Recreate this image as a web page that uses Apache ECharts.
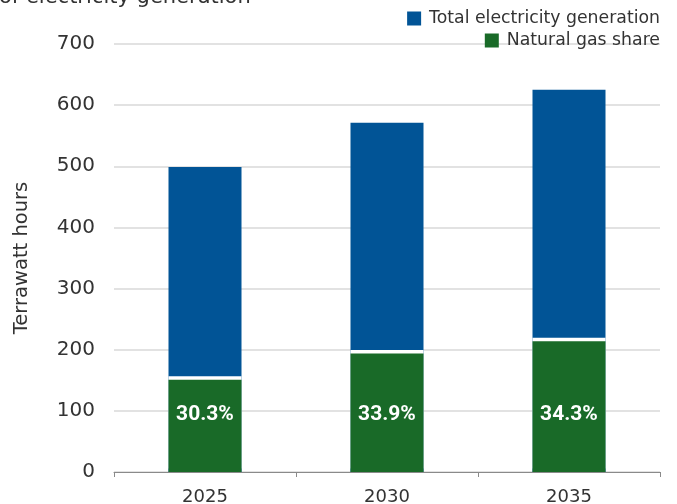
<!DOCTYPE html>
<html>
<head>
<meta charset="utf-8">
<script src="https://cdn.jsdelivr.net/npm/echarts@6/dist/echarts.min.js"></script>
<style>html,body{margin:0;padding:0;background:#fff}#c{width:677px;height:504px}</style>
</head>
<body>
<div id="c"></div>
<script>
const categories = ['2025', '2030', '2035'];
const totalGeneration = [499, 571, 625];
const gasGeneration = [151, 194, 214];
const gasShareLabels = ['30.3%', '33.9%', '34.3%'];
const yTicks = [0, 100, 200, 300, 400, 500, 600, 700];

const BLUE = '#015496';
const GREEN = '#196a28';
const FONT = '"DejaVu Sans", Roboto, sans-serif';

const chart = echarts.init(document.getElementById('c'), null, {renderer: 'canvas'});
chart.setOption({
  animation: false,
  backgroundColor: '#fff',
  textStyle: {fontFamily: FONT},
  title: {
    text: 'of electricity generation',
    left: -1, top: -13, padding: 0,
    textStyle: {fontSize: 21, fontWeight: 'normal', color: '#333', fontFamily: FONT}
  },
  legend: [
    {
      data: [{name: 'Total electricity generation'}],
      right: 17, top: 10, padding: 0, itemWidth: 14, itemHeight: 14,
      icon: 'rect',
      selectedMode: false,
      textStyle: {fontSize: 17.3, color: '#333', fontFamily: FONT, padding: [0, 0, 0, 3]}
    },
    {
      data: [{name: 'Natural gas share'}],
      right: 17, top: 32, padding: 0, itemWidth: 14, itemHeight: 14,
      icon: 'rect',
      selectedMode: false,
      textStyle: {fontSize: 17.3, color: '#333', fontFamily: FONT, padding: [0, 0, 0, 3]}
    }
  ],
  grid: {left: 114, right: 17, top: 44, bottom: 32, containLabel: false, outerBoundsMode: 'none'},
  xAxis: {
    type: 'category',
    data: categories,
    z: 5,
    axisLine: {lineStyle: {color: '#8a8a8a', width: 1}},
    axisTick: {show: true, length: 5, lineStyle: {color: '#8a8a8a'}},
    axisLabel: {fontSize: 18, color: '#333', margin: 16, fontFamily: FONT}
  },
  yAxis: {
    type: 'value',
    min: yTicks[0], max: yTicks[yTicks.length - 1], interval: 100,
    name: 'Terrawatt hours',
    nameLocation: 'middle',
    nameGap: 82,
    nameTextStyle: {fontSize: 19.5, color: '#333', fontFamily: FONT},
    axisLine: {show: false},
    axisTick: {show: false},
    axisLabel: {fontSize: 20, color: '#333', margin: 19, fontFamily: FONT},
    splitLine: {lineStyle: {color: '#d9d9d9', width: 1.5}}
  },
  series: [
    {
      name: 'Total electricity generation',
      type: 'bar',
      data: totalGeneration,
      barWidth: 73,
      z: 2,
      itemStyle: {color: BLUE}
    },
    {
      name: 'Natural gas share',
      type: 'bar',
      data: gasGeneration,
      barWidth: 73,
      barGap: '-100%',
      z: 3,
      itemStyle: {
        color: GREEN,
        shadowColor: '#ffffff',
        shadowBlur: 0,
        shadowOffsetX: 0,
        shadowOffsetY: -3.5
      },
      label: {
        show: true,
        position: 'insideBottom',
        distance: 47,
        formatter: p => gasShareLabels[p.dataIndex],
        color: '#fff',
        fontSize: 21,
        fontWeight: 'bold',
        fontFamily: 'Roboto, sans-serif'
      }
    }
  ]
});
</script>
</body>
</html>
